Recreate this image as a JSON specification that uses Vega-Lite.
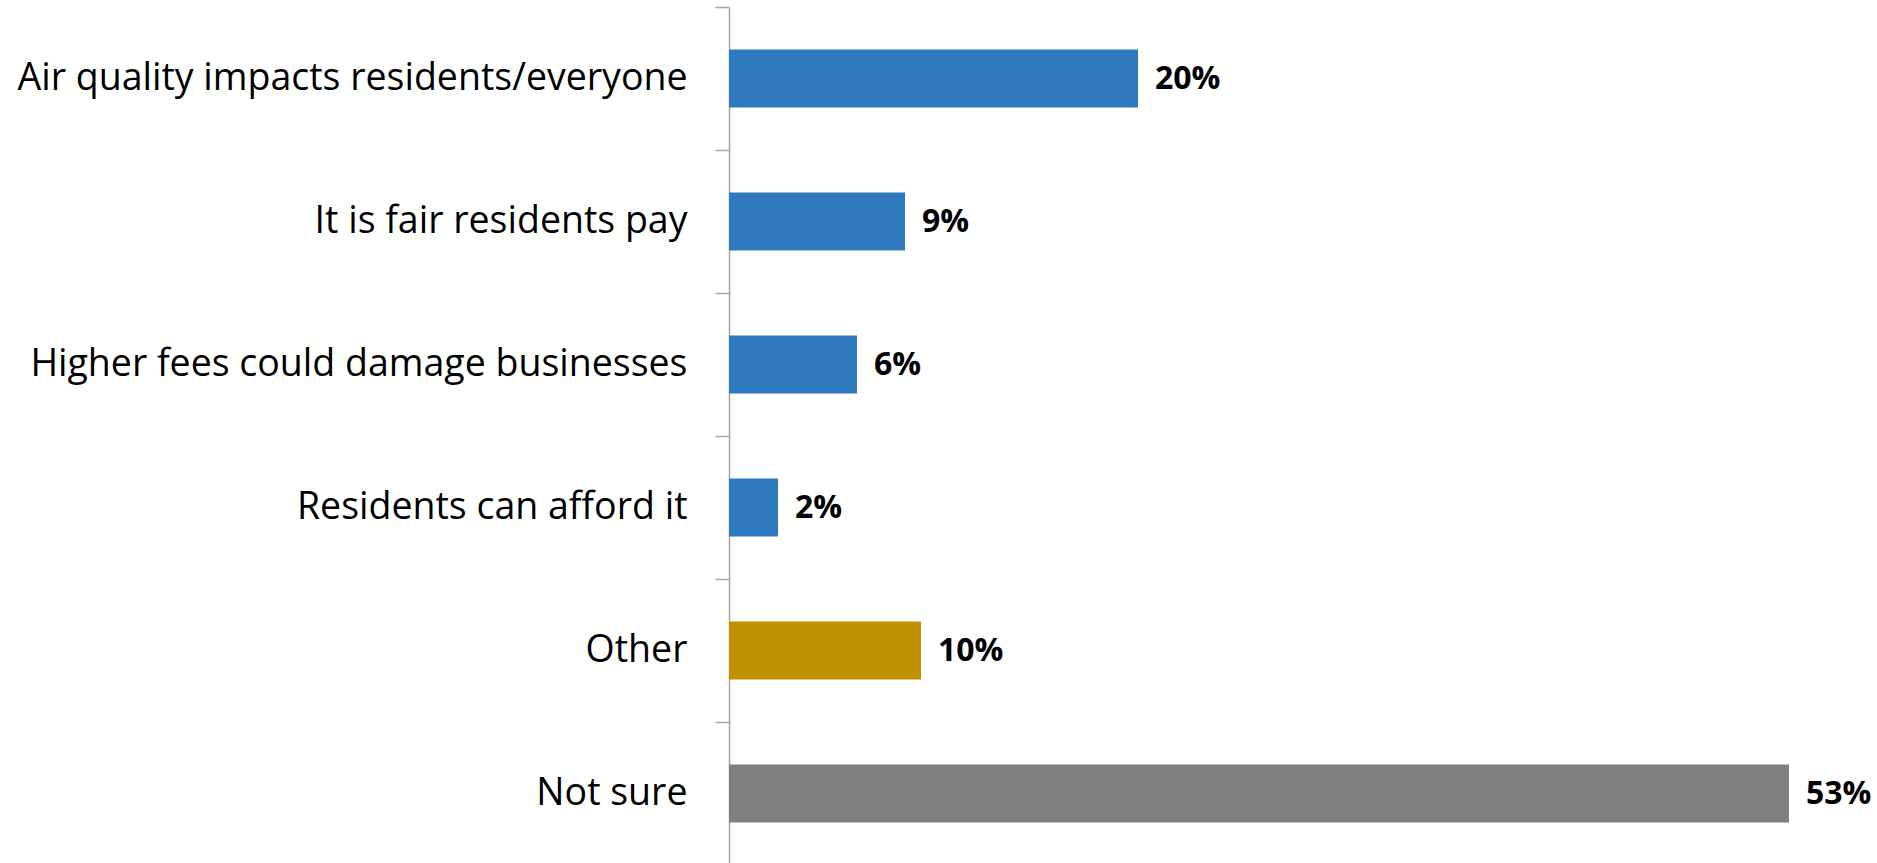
{
  "$schema": "https://vega.github.io/schema/vega-lite/v6.json",
  "autosize": {"type": "none"},
  "width": 1060,
  "height": 858,
  "padding": {"left": 729, "top": 7, "right": 88, "bottom": 0},
  "background": "white",
  "data": {"values": [
    {"reason": "Air quality impacts residents/everyone", "pct": 20.45, "group": "a", "label": "20%"},
    {"reason": "It is fair residents pay", "pct": 8.8, "group": "a", "label": "9%"},
    {"reason": "Higher fees could damage businesses", "pct": 6.4, "group": "a", "label": "6%"},
    {"reason": "Residents can afford it", "pct": 2.45, "group": "a", "label": "2%"},
    {"reason": "Other", "pct": 9.6, "group": "b", "label": "10%"},
    {"reason": "Not sure", "pct": 53, "group": "c", "label": "53%"}
  ]},
  "encoding": {
    "y": {"field": "reason", "type": "nominal", "sort": null,
      "scale": {"paddingInner": 0.595, "paddingOuter": 0.2975},
      "axis": {"title": null, "domain": true, "domainColor": "#A6A6A6", "domainWidth": 1.5,
        "ticks": true, "tickColor": "#A6A6A6", "tickSize": 14, "tickWidth": 1.5, "bandPosition": -0.73,
        "labelFont": "Open Sans", "labelFontSize": 37.5, "labelColor": "#000000", "labelPadding": 28, "labelLimit": 0}},
    "x": {"field": "pct", "type": "quantitative", "scale": {"domain": [0, 53], "nice": false}, "axis": null}
  },
  "layer": [
    {"mark": {"type": "bar"},
     "encoding": {"color": {"field": "group", "type": "nominal", "legend": null,
       "scale": {"domain": ["a", "b", "c"], "range": ["#2F79BE", "#BF9000", "#7F7F7F"]}}}},
    {"mark": {"type": "text", "align": "left", "baseline": "middle", "dx": 17, "font": "Open Sans", "fontSize": 32, "fontWeight": "bold", "color": "#000000"},
     "encoding": {"text": {"field": "label"}}}
  ],
  "config": {"view": {"stroke": null}}
}
